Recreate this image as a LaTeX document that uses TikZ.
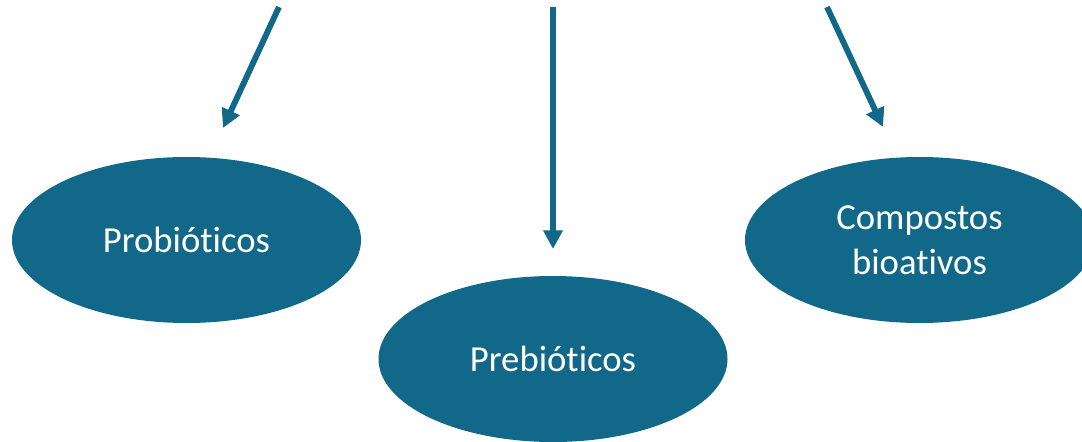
\documentclass[tikz,border=0pt]{standalone}
\usepackage{fontspec}
\setmainfont{Carlito}[Ligatures={NoCommon}]
\usetikzlibrary{arrows.meta,shapes.geometric}
\definecolor{tealbox}{RGB}{17,104,137}
\begin{document}
\begin{tikzpicture}[x=0.75pt,y=-0.75pt,
  bubble/.style={ellipse, fill=tealbox, text=white, minimum width=261.75pt, minimum height=124.5pt, inner sep=0pt, font=\fontsize{27.5}{34}\selectfont, align=center},
  link/.style={draw=tealbox, line width=4.4pt, -{Triangle[length=14pt,width=14pt]}}]
\useasboundingbox (0,0) rectangle (1082,442);
\clip (0,0) rectangle (1082,442);
\node[bubble] (pro) at (186.5,240) {Probióticos};
\node[bubble] (pre) at (553,359) {Prebióticos};
\node[bubble] (comp) at (919.5,240) {Compostos\\bioativos};
\coordinate (s1) at (279,7);
\coordinate (e1) at (223,128);
\coordinate (s2) at (553,7);
\coordinate (e2) at (553,249);
\coordinate (s3) at (827,7);
\coordinate (e3) at (883,127);
\draw[link] (s1) -- (e1);
\draw[link] (s2) -- (e2);
\draw[link] (s3) -- (e3);
\end{tikzpicture}
\end{document}
